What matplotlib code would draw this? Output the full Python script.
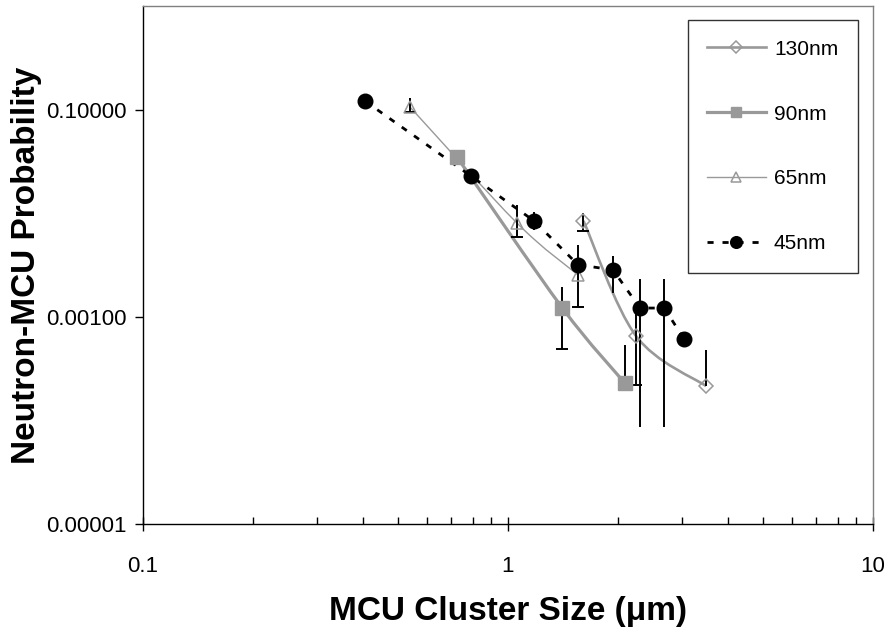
import numpy as np
import matplotlib
matplotlib.use("Agg")
import matplotlib.pyplot as plt
from matplotlib.path import Path
from matplotlib.patches import PathPatch
from matplotlib.lines import Line2D
from matplotlib.ticker import FixedLocator, FuncFormatter, LogLocator, NullFormatter

plt.rcParams["font.family"] = ["Liberation Sans", "DejaVu Sans"]

# ---- data -------------------------------------------------------------
series_labels = ["130nm", "90nm", "65nm", "45nm"]

x_130 = [1.61, 2.24, 3.49]
y_130 = [0.0085, 0.00066, 0.000215]
lo_130 = [0.0068, 0.00022, 0.000215]
hi_130 = [0.0100, 0.00109, 0.00048]
cap_130 = [True, True, False]

x_90 = [0.725, 1.41, 2.09]
y_90 = [0.0351, 0.00122, 0.00023]
lo_90 = [0.0351, 0.00049, 0.00023]
hi_90 = [0.0351, 0.00195, 0.00054]
cap_90 = [False, True, False]

x_65 = [0.539, 1.058, 1.555]
y_65 = [0.107, 0.0081, 0.00255]
lo_65 = [0.0957, 0.0059, 0.00255]
hi_65 = [0.1306, 0.0121, 0.00255]
cap_65 = [True, True, False]

x_45 = [0.406, 0.792, 1.178, 1.555, 1.94, 2.30, 2.68, 3.04]
y_45 = [0.122, 0.0230, 0.0085, 0.0032, 0.00285, 0.00122, 0.00122, 0.00061]
lo_45 = [0.122, 0.0230, 0.0069, 0.00125, 0.00171, 0.0000865, 0.0000865, 0.00061]
hi_45 = [0.122, 0.0230, 0.0103, 0.00497, 0.00388, 0.00233, 0.00233, 0.00061]
cap_45 = [False, False, False, True, False, False, False, False]

x_ticks = [0.1, 1, 10]
y_ticks = [1e-5, 1e-3, 1e-1]

GRAY = "#999999"
DASH = (0, (2.2, 3.2))


def smooth_path(xs, ys):
    """Cubic Bezier path through the points (Catmull-Rom style), built in log space."""
    p = np.column_stack([np.log10(xs), np.log10(ys)])
    n = len(p)
    verts = [p[0]]
    codes = [Path.MOVETO]
    for i in range(n - 1):
        prev = p[i - 1] if i > 0 else p[i]
        nxt = p[i + 2] if i + 2 < n else p[i + 1]
        c1 = p[i] + (p[i + 1] - prev) / 6.0
        c2 = p[i + 1] - (nxt - p[i]) / 6.0
        verts += [c1, c2, p[i + 1]]
        codes += [Path.CURVE4] * 3
    verts = 10 ** np.array(verts)
    return Path(verts, codes)


def error_bars(ax, xs, lo, hi, caps, color="black"):
    ax.vlines(xs, lo, hi, colors=color, linewidth=1.4, zorder=4)
    cx = [x for x, c in zip(xs, caps) if c]
    cy = [v for v, c in zip(lo, caps) if c]
    ax.plot(cx, cy, linestyle="none", marker="_", markersize=8,
            markeredgewidth=1.4, color=color, zorder=4)


fig = plt.figure(figsize=(8.93, 6.36), dpi=100)
ax = fig.add_axes([0.160, 0.1761, 0.8176, 0.8137])
ax.set_xscale("log")
ax.set_yscale("log")
ax.set_xlim(0.1, 10)
ax.set_ylim(1e-5, 1)

styles = {
    "130nm": dict(color=GRAY, lw=1.9, marker="D", ms=7.5, mfc="none", mec=GRAY, mew=1.1),
    "90nm": dict(color=GRAY, lw=2.3, marker="s", ms=9.5, mfc=GRAY, mec=GRAY, mew=1.0),
    "65nm": dict(color=GRAY, lw=1.0, marker="^", ms=9.0, mfc="none", mec=GRAY, mew=1.1),
    "45nm": dict(color="black", lw=2.0, marker="o", ms=10.5, mfc="black", mec="black", mew=1.0),
}

# smoothed grey series
for lab, xs, ys in [("130nm", x_130, y_130), ("90nm", x_90, y_90), ("65nm", x_65, y_65)]:
    st = styles[lab]
    ax.add_patch(PathPatch(smooth_path(xs, ys), fill=False, edgecolor=st["color"],
                           linewidth=st["lw"], zorder=2))

# dashed 45nm series
ax.plot(x_45, y_45, color="black", lw=2.0, linestyle=DASH, zorder=2)

# error bars
error_bars(ax, x_130, lo_130, hi_130, cap_130)
error_bars(ax, x_90, lo_90, hi_90, cap_90)
error_bars(ax, x_65, lo_65, hi_65, cap_65)
error_bars(ax, x_45, lo_45, hi_45, cap_45)

# markers
for lab, xs, ys in [("130nm", x_130, y_130), ("90nm", x_90, y_90),
                    ("65nm", x_65, y_65), ("45nm", x_45, y_45)]:
    st = styles[lab]
    ax.plot(xs, ys, linestyle="none", marker=st["marker"], ms=st["ms"],
            mfc=st["mfc"], mec=st["mec"], mew=st["mew"], zorder=5)

# axes styling
ax.xaxis.set_major_locator(FixedLocator(x_ticks))
ax.xaxis.set_major_formatter(FuncFormatter(lambda v, p: f"{v:g}"))
ax.xaxis.set_minor_locator(LogLocator(base=10, subs=np.arange(2, 10)))
ax.xaxis.set_minor_formatter(NullFormatter())
ax.yaxis.set_major_locator(FixedLocator(y_ticks))
ax.yaxis.set_major_formatter(FuncFormatter(lambda v, p: f"{v:.5f}"))
ax.yaxis.set_minor_locator(FixedLocator([]))

ax.tick_params(axis="x", which="major", direction="inout", length=10, width=1,
               labelsize=16, pad=18)
ax.tick_params(axis="x", which="minor", direction="in", length=5, width=1)
ax.tick_params(axis="y", which="major", direction="out", length=6, width=1,
               labelsize=16, pad=6)

for side in ("left", "bottom"):
    ax.spines[side].set_color("black")
    ax.spines[side].set_linewidth(1.0)
for side in ("top", "right"):
    ax.spines[side].set_color("#808080")
    ax.spines[side].set_linewidth(1.0)

ax.set_xlabel("MCU Cluster Size (\u03bcm)", fontsize=24, fontweight="bold", labelpad=14)
ax.set_ylabel("Neutron-MCU Probability", fontsize=24, fontweight="bold")
ax.yaxis.set_label_coords(-0.138, 0.5)

# legend
handles = []
for lab in series_labels:
    st = styles[lab]
    ls = DASH if lab == "45nm" else "-"
    handles.append(Line2D([], [], color=st["color"], lw=st["lw"], linestyle=ls,
                          marker=st["marker"], ms=st["ms"] * 0.8, mfc=st["mfc"],
                          mec=st["mec"], mew=st["mew"]))
leg = ax.legend(handles, series_labels, loc="upper right", bbox_to_anchor=(0.9795, 0.974),
                fontsize=15, frameon=True, fancybox=False, edgecolor="black",
                handlelength=2.8, handletextpad=0.4, labelspacing=2.2,
                borderpad=0.95, borderaxespad=0.0)
leg.get_frame().set_linewidth(1.0)

fig.savefig("out.png", dpi=100)
